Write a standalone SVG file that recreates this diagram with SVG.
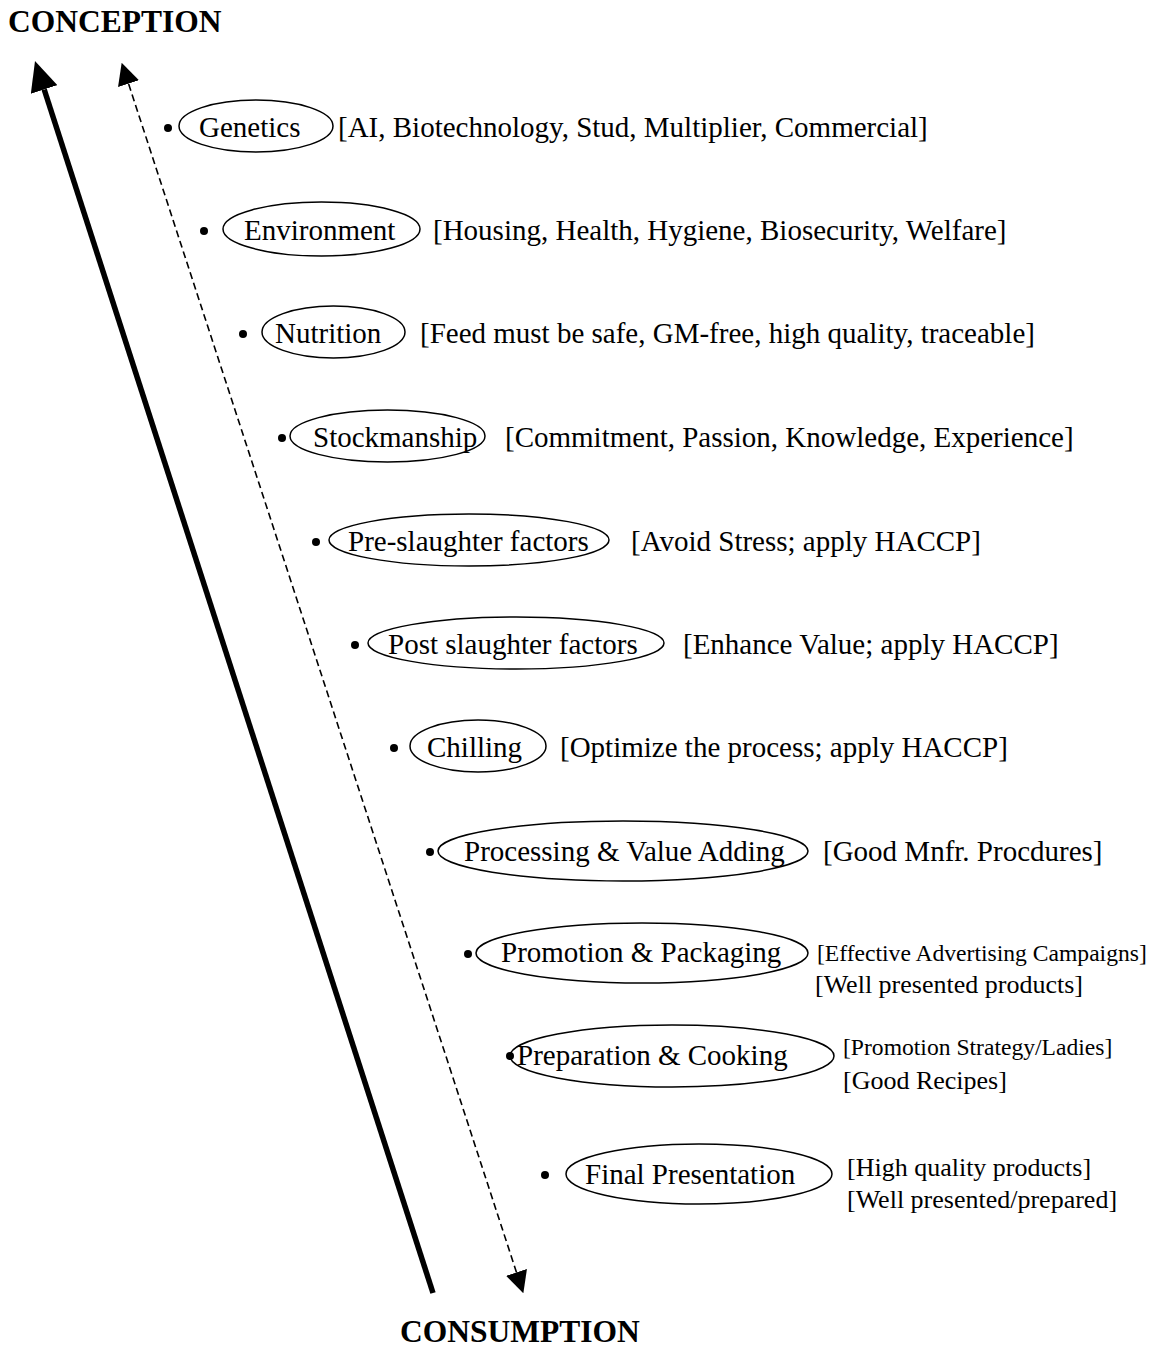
<svg xmlns="http://www.w3.org/2000/svg" width="1162" height="1347" viewBox="0 0 1162 1347">
<style>
text{font-family:"Liberation Serif","Times New Roman",serif;fill:#000}
.t{font-size:29px}
.s{font-size:26px}
.xs{font-size:23.6px}
.h{font-size:31.5px;font-weight:bold}
ellipse{fill:none;stroke:#000;stroke-width:1.5}
.b{fill:#000}
.solid{fill:none;stroke:#000;stroke-width:5.5}
.dash{fill:none;stroke:#000;stroke-width:1.6;stroke-dasharray:7 4}
</style>
<defs>
<marker id="bigHead" viewBox="0 0 30 28" refX="0" refY="14" markerWidth="30" markerHeight="28" markerUnits="userSpaceOnUse" orient="auto"><path d="M0,0 L30,14 L0,28 z" fill="#000"/></marker>
<marker id="smallHead" viewBox="0 0 22 22" refX="0" refY="11" markerWidth="22" markerHeight="22" markerUnits="userSpaceOnUse" orient="auto-start-reverse"><path d="M0,0 L22,11 L0,22 z" fill="#000"/></marker>
</defs>
<rect width="1162" height="1347" fill="#fff"/>
<text id="conception" class="h" x="8" y="32">CONCEPTION</text>
<text id="consumption" class="h" x="400" y="1342">CONSUMPTION</text>
<g id="connectors">
<path class="solid" d="M433,1293 L44.2,89.5" marker-end="url(#bigHead)"/>
<path class="dash" d="M516.5,1272.4 L128.5,83.6" marker-start="url(#smallHead)" marker-end="url(#smallHead)"/>
</g>
<g id="genetics"><circle class="b" cx="168" cy="128" r="4"/><ellipse cx="256" cy="126" rx="77" ry="26"/><text class="t" x="199" y="137">Genetics</text><text class="t" x="338" y="137">[AI, Biotechnology, Stud, Multiplier, Commercial]</text></g>
<g id="environment"><circle class="b" cx="204" cy="231" r="4"/><ellipse cx="321.5" cy="229" rx="98.5" ry="27"/><text class="t" x="244" y="240">Environment</text><text class="t" x="433" y="240">[Housing, Health, Hygiene, Biosecurity, Welfare]</text></g>
<g id="nutrition"><circle class="b" cx="243" cy="334" r="4"/><ellipse cx="333.5" cy="332" rx="71.5" ry="26"/><text class="t" x="275" y="343">Nutrition</text><text class="t" x="420" y="343">[Feed must be safe, GM-free, high quality, traceable]</text></g>
<g id="stockmanship"><circle class="b" cx="282" cy="438" r="4"/><ellipse cx="387.5" cy="436" rx="97.5" ry="26"/><text class="t" x="313" y="447">Stockmanship</text><text class="t" x="505" y="447">[Commitment, Passion, Knowledge, Experience]</text></g>
<g id="preslaughter"><circle class="b" cx="316" cy="542" r="4"/><ellipse cx="469" cy="540" rx="140" ry="26"/><text class="t" x="348" y="551">Pre-slaughter factors</text><text class="t" x="631" y="551">[Avoid Stress; apply HACCP]</text></g>
<g id="postslaughter"><circle class="b" cx="355" cy="645" r="4"/><ellipse cx="516" cy="643" rx="148" ry="26"/><text class="t" x="388" y="654">Post slaughter factors</text><text class="t" x="683" y="654">[Enhance Value; apply HACCP]</text></g>
<g id="chilling"><circle class="b" cx="394" cy="748" r="4"/><ellipse cx="478" cy="746" rx="68" ry="26"/><text class="t" x="427" y="757">Chilling</text><text class="t" x="560" y="757">[Optimize the process; apply HACCP]</text></g>
<g id="processing"><circle class="b" cx="430" cy="852" r="4"/><ellipse cx="623" cy="851" rx="185" ry="30"/><text class="t" x="464" y="861">Processing &amp; Value Adding</text><text class="t" x="823" y="861">[Good Mnfr. Procdures]</text></g>
<g id="promotion"><circle class="b" cx="468" cy="954" r="4"/><ellipse cx="642" cy="953" rx="166" ry="30"/><text class="t" x="501" y="962">Promotion &amp; Packaging</text><text class="xs" x="817" y="961">[Effective Advertising Campaigns]</text><text class="s" x="815" y="993">[Well presented products]</text></g>
<g id="preparation"><circle class="b" cx="510" cy="1056" r="4"/><ellipse cx="672" cy="1056" rx="162" ry="31"/><text class="t" x="517" y="1065">Preparation &amp; Cooking</text><text class="xs" x="843" y="1055">[Promotion Strategy/Ladies]</text><text class="s" x="843" y="1089">[Good Recipes]</text></g>
<g id="final"><circle class="b" cx="545" cy="1175" r="4"/><ellipse cx="699" cy="1174" rx="133" ry="30"/><text class="t" x="585" y="1184">Final Presentation</text><text class="s" x="847" y="1176">[High quality products]</text><text class="s" x="847" y="1208">[Well presented/prepared]</text></g>
</svg>
